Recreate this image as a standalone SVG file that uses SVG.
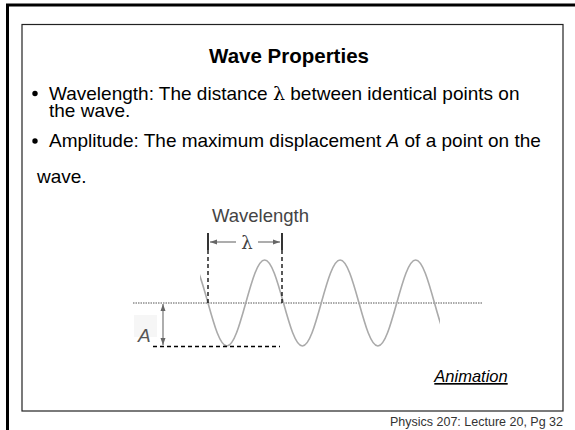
<svg xmlns="http://www.w3.org/2000/svg" width="575" height="430" viewBox="0 0 575 430">
<defs>
<style>
.t{font-family:"Liberation Sans",Arial,sans-serif;fill:#000}
.dash{stroke:#000;stroke-width:1.3;stroke-dasharray:4,3;fill:none}
.arr{stroke:#777;stroke-width:1.2;fill:none}
</style>
<marker id="ah" markerWidth="8" markerHeight="6" refX="7" refY="3" orient="auto-start-reverse" markerUnits="userSpaceOnUse">
<path d="M0,0.5 L7,3 L0,5.5 Z" fill="#666"/>
</marker>
<clipPath id="wc"><rect x="200" y="240" width="240" height="120"/></clipPath>
</defs>
<rect width="575" height="430" fill="#fff"/>
<g id="frame">
<path d="M7.5,430 V5 H575" fill="none" stroke="#000" stroke-width="3"/>
<rect x="22" y="24.5" width="541" height="386.5" fill="none" stroke="#222" stroke-width="1.2"/>
</g>
<g id="title"><text class="t" x="289" y="63" font-size="20.5" font-weight="bold" text-anchor="middle">Wave Properties</text></g>
<g id="bullets">
<circle cx="35" cy="93.5" r="2.7" fill="#000"/>
<text class="t" x="49" y="100" font-size="19">Wavelength: The distance <tspan font-family="'DejaVu Serif',serif">λ</tspan> between identical points on</text>
<text class="t" x="49" y="117" font-size="19">the wave.</text>
<circle cx="35" cy="141" r="2.7" fill="#000"/>
<text class="t" x="49" y="147" font-size="19">Amplitude: The maximum displacement <tspan font-style="italic">A</tspan> of a point on the</text>
<text class="t" x="37" y="183" font-size="19">wave.</text>
</g>
<g id="connectors">
<line x1="133" y1="303" x2="482" y2="303" stroke="#555" stroke-width="1" stroke-dasharray="1.5,1"/>
<path clip-path="url(#wc)" fill="none" stroke="#aaa" stroke-width="1.6" d="M189.125,260 c6.831,0 12.719,20.97 18.875,43 c6.156,22.03 12.044,43 18.875,43 c6.831,0 12.719,-20.97 18.875,-43 c6.156,-22.03 12.044,-43 18.875,-43 c6.831,0 12.719,20.97 18.875,43 c6.156,22.03 12.044,43 18.875,43 c6.831,0 12.719,-20.97 18.875,-43 c6.156,-22.03 12.044,-43 18.875,-43 c6.831,0 12.719,20.97 18.875,43 c6.156,22.03 12.044,43 18.875,43 c6.831,0 12.719,-20.97 18.875,-43 c6.156,-22.03 12.044,-43 18.875,-43 c6.831,0 12.719,20.97 18.875,43 c6.156,22.03 12.044,43 18.875,43"/>
<line class="dash" x1="153" y1="346.5" x2="280" y2="346.5"/>
<line class="dash" x1="208" y1="250" x2="208" y2="303"/>
<line class="dash" x1="282" y1="250" x2="282" y2="303"/>
<line x1="208" y1="233" x2="208" y2="250" stroke="#000" stroke-width="1.6"/>
<line x1="282" y1="233" x2="282" y2="250" stroke="#000" stroke-width="1.6"/>
<line class="arr" x1="236" y1="242" x2="210" y2="242" marker-end="url(#ah)"/>
<line class="arr" x1="258" y1="242" x2="280" y2="242" marker-end="url(#ah)"/>
<line class="arr" x1="163" y1="304" x2="163" y2="345" marker-start="url(#ah)" marker-end="url(#ah)"/>
</g>
<g id="labels">
<text class="t" x="212" y="222" font-size="18.5" style="fill:#444">Wavelength</text>
<text x="247" y="249" font-size="18" text-anchor="middle" font-family="'DejaVu Serif',serif" fill="#444">λ</text>
<rect x="134" y="315" width="23" height="22" fill="#f6f6f6"/>
<text class="t" x="138" y="342" font-size="19" font-style="italic" style="fill:#555">A</text>
<text class="t" x="471" y="382" font-size="16.5" font-style="italic" text-anchor="middle" text-decoration="underline">Animation</text>
<text class="t" x="563" y="426" font-size="12.5" text-anchor="end" style="fill:#333">Physics 207: Lecture 20, Pg 32</text>
</g>
</svg>
